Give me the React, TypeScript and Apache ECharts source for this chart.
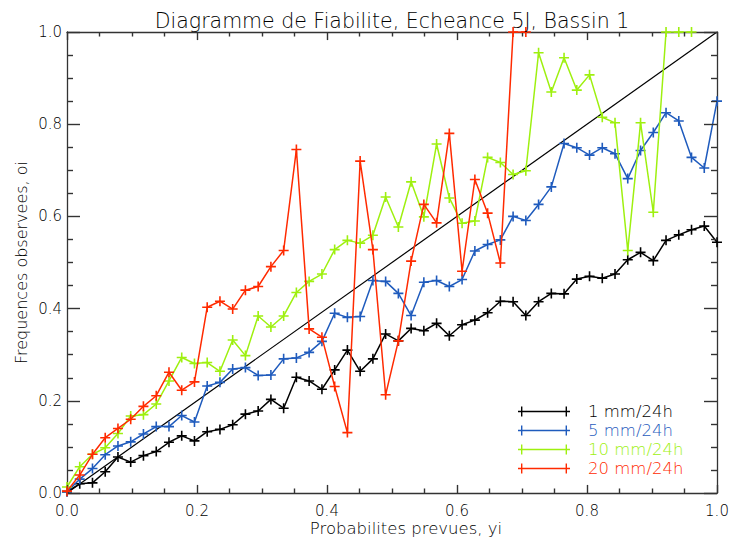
import React, { useEffect, useRef } from "react";
import * as echarts from "echarts";

// Forecast probability bins (x)
const probs = [
  0, 0.0196, 0.0392, 0.0588, 0.0784, 0.098, 0.1176, 0.1373, 0.1569, 0.1765,
  0.1961, 0.2157, 0.2353, 0.2549, 0.2745, 0.2941, 0.3137, 0.3333, 0.3529, 0.3725,
  0.3922, 0.4118, 0.4314, 0.451, 0.4706, 0.4902, 0.5098, 0.5294, 0.549, 0.5686,
  0.5882, 0.6078, 0.6275, 0.6471, 0.6667, 0.6863, 0.7059, 0.7255, 0.7451, 0.7647,
  0.7843, 0.8039, 0.8235, 0.8431, 0.8627, 0.8824, 0.902, 0.9216, 0.9412, 0.9608,
  0.9804, 1.0,
];

const obs1mm = [
  0.003, 0.02, 0.022, 0.046, 0.078, 0.067, 0.081, 0.09, 0.11, 0.124,
  0.113, 0.133, 0.138, 0.148, 0.171, 0.178, 0.203, 0.184, 0.251, 0.243,
  0.225, 0.267, 0.31, 0.264, 0.291, 0.345, 0.33, 0.357, 0.352, 0.368,
  0.341, 0.365, 0.375, 0.391, 0.416, 0.415, 0.385, 0.415, 0.433, 0.432,
  0.464, 0.47, 0.466, 0.475, 0.506, 0.522, 0.504, 0.548, 0.56, 0.571,
  0.579, 0.544,
];

const obs5mm = [
  0.003, 0.03, 0.053, 0.083, 0.102, 0.111, 0.128, 0.144, 0.144, 0.168,
  0.154, 0.232, 0.24, 0.269, 0.272, 0.255, 0.256, 0.291, 0.293, 0.305,
  0.329, 0.39, 0.381, 0.383, 0.461, 0.459, 0.433, 0.385, 0.457, 0.461,
  0.448, 0.463, 0.525, 0.539, 0.549, 0.6, 0.591, 0.626, 0.664, 0.758,
  0.749, 0.733, 0.749, 0.736, 0.682, 0.743, 0.782, 0.825, 0.807, 0.728,
  0.705, 0.85,
];

const obs10mm = [
  0.013, 0.057, 0.084, 0.098, 0.129, 0.167, 0.17, 0.193, 0.243, 0.294,
  0.281, 0.283, 0.264, 0.332, 0.298, 0.384, 0.36, 0.384, 0.435, 0.459,
  0.475, 0.528, 0.548, 0.542, 0.559, 0.642, 0.577, 0.675, 0.599, 0.757,
  0.64, 0.585, 0.59, 0.728, 0.717, 0.691, 0.699, 0.955, 0.87, 0.944,
  0.874, 0.907, 0.815, 0.803, 0.526, 0.803, 0.609, 1.0, 1.0, 1.0,
];

const obs20mm = [
  0.004, 0.039, 0.084, 0.12, 0.14, 0.16, 0.188, 0.211, 0.262, 0.223,
  0.241, 0.403, 0.416, 0.399, 0.44, 0.448, 0.491, 0.526, 0.745, 0.356,
  0.338, 0.231, 0.131, 0.72, 0.528, 0.213, 0.33, 0.503, 0.626, 0.586,
  0.78, 0.481, 0.68, 0.607, 0.499, 1.0, 1.0,
];

const seriesNames = ["1 mm/24h", "5 mm/24h", "10 mm/24h", "20 mm/24h"];
const seriesColors = ["#000000", "#1f5bbd", "#9ef00f", "#ff2a00"];
const diagonal = [
  [0, 0],
  [1, 1],
];
const majorTicks = [0, 0.2, 0.4, 0.6, 0.8, 1.0];
const minorTicks = [
  0.05, 0.1, 0.15, 0.25, 0.3, 0.35, 0.45, 0.5, 0.55, 0.65, 0.7, 0.75, 0.85, 0.9, 0.95,
];

const FONT = "DejaVu Sans";
const WEIGHT = 200;
const AXIS_COLOR = "#333";
// tick lengths in axis units (x-axis ticks are vertical, y-axis ticks horizontal)
const X_MAJOR_LEN = 0.0175;
const X_MINOR_LEN = 0.0098;
const Y_MAJOR_LEN = 0.02;
const Y_MINOR_LEN = 0.0092;
const PLUS = "path://M0,4.2h10v1.6h-10z M4.2,0h1.6v10h-1.6z";
const LEG_ICON =
  "path://M0,4.3h52v1.4h-52z M3,0h1.4v10h-1.4z M47.6,0h1.4v10h-1.4z M64.95,4.95h0.05v0.05h-0.05z";

export default function App() {
  const ref = useRef<HTMLDivElement>(null);

  useEffect(() => {
    if (!ref.current) return;
    const chart = echarts.init(ref.current, null, { renderer: "svg" });

    // Inward box ticks on all four sides, as markLine segments in data units
    const tickSegs: any[] = [];
    const seg = (a: number[], b: number[]) => tickSegs.push([{ coord: a }, { coord: b }]);
    const addX = (vals: number[], len: number) =>
      vals.forEach((v) => {
        seg([v, 0], [v, len]);
        seg([v, 1], [v, 1 - len]);
      });
    const addY = (vals: number[], len: number) =>
      vals.forEach((v) => {
        seg([0, v], [len, v]);
        seg([1, v], [1 - len, v]);
      });
    addX(majorTicks, X_MAJOR_LEN);
    addX(minorTicks, X_MINOR_LEN);
    addY(majorTicks, Y_MAJOR_LEN);
    addY(minorTicks, Y_MINOR_LEN);

    const allData = [obs1mm, obs5mm, obs10mm, obs20mm];
    const series: any[] = [
      {
        type: "line",
        data: diagonal,
        symbol: "none",
        silent: true,
        lineStyle: { color: "#000", width: 1.2 },
        z: 1,
        markLine: {
          silent: true,
          symbol: ["none", "none"],
          label: { show: false },
          emphasis: { disabled: true },
          lineStyle: { color: AXIS_COLOR, width: 1.4, type: "solid" },
          data: tickSegs,
          animation: false,
        },
      },
    ];
    allData.forEach((vals, k) => {
      series.push({
        type: "line",
        name: seriesNames[k],
        data: vals.map((v, i) => [probs[i], v]),
        symbol: PLUS,
        symbolSize: 10,
        showSymbol: true,
        clip: true,
        lineStyle: { color: seriesColors[k], width: 1.5 },
        itemStyle: { color: seriesColors[k], borderWidth: 0 },
        z: 2 + k,
      });
    });

    const label = (show: boolean, margin: number) => ({
      show,
      formatter: (v: number) => v.toFixed(1),
      margin,
      fontSize: 15,
      fontFamily: FONT,
      fontWeight: WEIGHT,
      color: "#000",
      showMinLabel: true,
      showMaxLabel: true,
    });
    const baseAxis = (pos: string, labels: boolean, margin: number) => ({
      type: "value",
      position: pos,
      min: 0,
      max: 1,
      interval: 0.2,
      axisLine: { show: true, onZero: false, lineStyle: { color: AXIS_COLOR, width: 1.3 } },
      axisTick: { show: false },
      minorTick: { show: false },
      splitLine: { show: false },
      minorSplitLine: { show: false },
      axisLabel: label(labels, margin),
    });

    const xBottom: any = baseAxis("bottom", true, 10);
    xBottom.name = "Probabilites prevues, yi";
    xBottom.nameLocation = "middle";
    xBottom.nameGap = 27;
    xBottom.nameMoveOverlap = false;
    xBottom.nameTextStyle = {
      fontSize: 16.5,
      fontFamily: FONT,
      fontWeight: WEIGHT,
      color: "#000",
      padding: [0, 0, 0, 28],
    };
    const yLeft: any = baseAxis("left", true, 5);
    yLeft.name = "Frequences observees, oi";
    yLeft.nameLocation = "middle";
    yLeft.nameGap = 38;
    yLeft.nameMoveOverlap = false;
    yLeft.nameTextStyle = { fontSize: 16, fontFamily: FONT, fontWeight: WEIGHT, color: "#000" };

    chart.setOption({
      animation: false,
      backgroundColor: "#fff",
      title: {
        text: "Diagramme de Fiabilite, Echeance 5J, Bassin 1",
        left: 392,
        textAlign: "center",
        top: 10,
        padding: 0,
        textStyle: { fontSize: 20.5, fontWeight: WEIGHT, fontFamily: FONT, color: "#000" },
      },
      grid: {
        left: 67,
        right: 12,
        top: 32,
        bottom: 44,
        containLabel: false,
        outerBoundsMode: "none",
      },
      legend: {
        orient: "vertical",
        left: 513,
        top: 398,
        itemWidth: 65,
        itemHeight: 10,
        itemGap: 2,
        icon: LEG_ICON,
        itemStyle: { borderWidth: 0 },
        textStyle: { fontSize: 16.5, fontFamily: FONT, fontWeight: WEIGHT, lineHeight: 16.5 },
        selectedMode: false,
        data: seriesNames.map((n, k) => ({
          name: n,
          textStyle: { color: seriesColors[k] },
        })),
      },
      xAxis: [xBottom, baseAxis("top", false, 8)],
      yAxis: [yLeft, baseAxis("right", false, 8)],
      series,
    });

    return () => {
      chart.dispose();
    };
  }, []);

  return (
    <div
      ref={ref}
      style={{
        position: "fixed",
        left: 0,
        top: 0,
        width: 729,
        height: 537,
        background: "#fff",
      }}
    />
  );
}
